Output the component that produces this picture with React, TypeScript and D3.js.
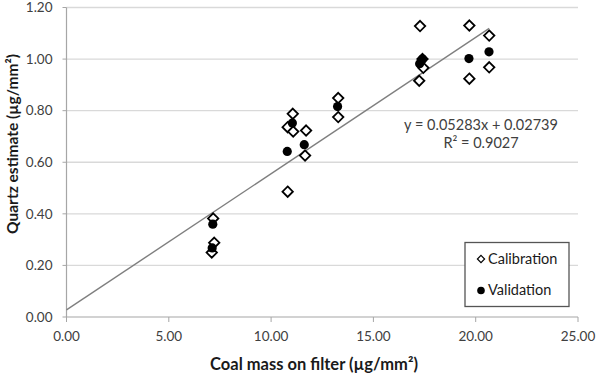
import React from "react";
import * as d3 from "d3";

const calibX = [17.28, 17.40, 17.44, 17.24, 19.69, 19.69, 20.66, 20.66, 11.06, 10.81, 11.08, 11.71, 11.66, 10.81, 13.28, 13.28, 7.17, 7.22, 7.10];
const calibY = [1.128, 1.0, 0.966, 0.916, 1.130, 0.924, 1.091, 0.968, 0.788, 0.736, 0.719, 0.723, 0.626, 0.486, 0.849, 0.775, 0.382, 0.288, 0.250];
const validX = [17.26, 17.40, 19.67, 20.65, 11.04, 10.79, 11.62, 13.25, 7.15, 7.12];
const validY = [0.982, 1.000, 1.002, 1.028, 0.752, 0.642, 0.668, 0.816, 0.360, 0.268];
const xTicks = [0, 5, 10, 15, 20, 25];
const yTicks = [0, 0.2, 0.4, 0.6, 0.8, 1.0, 1.2];
const slope = 0.05283;
const intercept = 0.02739;
const equationLabel = "y = 0.05283x + 0.02739";
const r2Label = "R² = 0.9027";
const xTitle = "Coal mass on filter (µg/mm²)";
const yTitle = "Quartz estimate (µg/mm²)";
const legendLabels = ["Calibration", "Validation"];

const W = 600;
const H = 377;
const left = 66.5, right = 578, top = 7.5, bottom = 317;
const FONT = "Lato, 'Open Sans', sans-serif";

export default function App() {
  const x = d3.scaleLinear().domain([0, 25]).range([left, right]);
  const y = d3.scaleLinear().domain([0, 1.2]).range([bottom, top]);
  const xMax = d3.max(calibX) as number;
  const line = d3.line<number>().x((d) => x(d)).y((d) => y(slope * d + intercept));
  const diamond = (cx: number, cy: number, s = 5.2) =>
    `M${cx},${cy - s}L${cx + s},${cy}L${cx},${cy + s}L${cx - s},${cy}Z`;

  return (
    <svg width={W} height={H} style={{ position: "absolute", left: 0, top: 0, background: "#fff" }}>
      <rect width={W} height={H} fill="#fff" />
      {yTicks.slice(1).map((t) => (
        <line key={"g" + t} x1={left} x2={right} y1={y(t)} y2={y(t)} stroke="#d9d9d9" strokeWidth={1.3} />
      ))}
      <line x1={left} x2={left} y1={top} y2={bottom} stroke="#a6a6a6" strokeWidth={1.2} />
      <line x1={left} x2={right} y1={bottom} y2={bottom} stroke="#a6a6a6" strokeWidth={1.2} />
      {yTicks.map((t) => (
        <g key={"y" + t}>
          <line x1={left - 4} x2={left} y1={y(t)} y2={y(t)} stroke="#a6a6a6" />
          <text x={left - 14} y={y(t)} dy="0.35em" textAnchor="end" fontFamily={FONT} fontSize={13.5} fill="#404040">
            {t.toFixed(2)}
          </text>
        </g>
      ))}
      {xTicks.map((t) => (
        <g key={"x" + t}>
          <line x1={x(t)} x2={x(t)} y1={bottom} y2={bottom + 5} stroke="#a6a6a6" />
          <text x={x(t)} y={341} textAnchor="middle" fontFamily={FONT} fontSize={13.5} fill="#404040">
            {t.toFixed(2)}
          </text>
        </g>
      ))}
      <text x={314} y={370} textAnchor="middle" fontFamily={FONT} fontSize={16.5} fontWeight="bold" fill="#1a1a1a">
        {xTitle}
      </text>
      <text transform={`translate(18,144) rotate(-90)`} textAnchor="middle" fontFamily={FONT} fontSize={15.5} fontWeight="bold" fill="#1a1a1a">
        {yTitle}
      </text>
      <path d={line([0, xMax]) as string} stroke="#7f7f7f" strokeWidth={1.4} fill="none" />
      {calibX.map((v, i) => (
        <path key={"c" + i} d={diamond(x(v), y(calibY[i]))} fill="#fff" stroke="#000" strokeWidth={1.8} />
      ))}
      {validX.map((v, i) => (
        <circle key={"v" + i} cx={x(v)} cy={y(validY[i])} r={4.6} fill="#000" />
      ))}
      <text x={481} y={130} textAnchor="middle" fontFamily={FONT} fontSize={14.5} fill="#404040">
        {equationLabel}
      </text>
      <text x={481} y={147.5} textAnchor="middle" fontFamily={FONT} fontSize={14.5} fill="#404040">
        {r2Label}
      </text>
      <rect x={465} y={242.5} width={104} height={64} fill="#fff" stroke="#555" strokeWidth={1.3} />
      <path d={diamond(481, 259, 3.6)} fill="#fff" stroke="#000" strokeWidth={1.2} />
      <circle cx={481} cy={290.5} r={3.8} fill="#000" />
      <text x={488} y={263.5} fontFamily={FONT} fontSize={14.5} fill="#1a1a1a">{legendLabels[0]}</text>
      <text x={488} y={295} fontFamily={FONT} fontSize={14.5} fill="#1a1a1a">{legendLabels[1]}</text>
    </svg>
  );
}
